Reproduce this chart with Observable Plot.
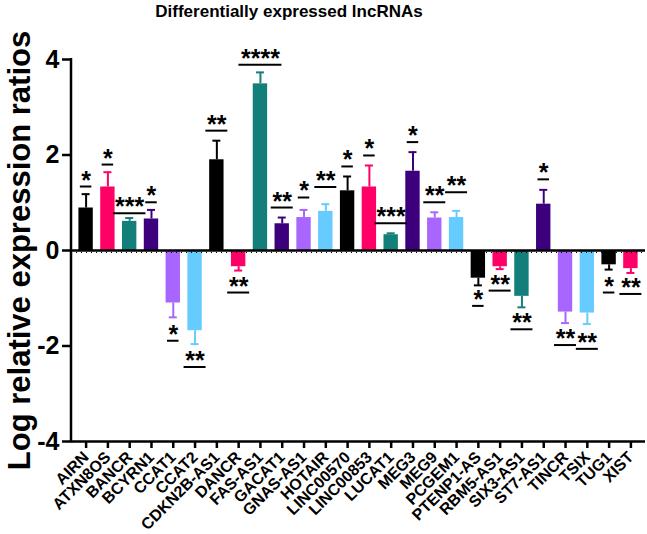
<!DOCTYPE html>
<html><head><meta charset="utf-8">
<script src="https://cdn.jsdelivr.net/npm/d3@7"></script>
<script src="https://cdn.jsdelivr.net/npm/@observablehq/plot@0.6"></script>
<style>
body{margin:0;background:#fff;font-family:"Liberation Sans",Arial,sans-serif;}
#wrap{position:relative;width:647px;height:534px;}
#title{position:absolute;left:0;top:0;width:578px;text-align:center;font-weight:bold;font-size:17px;line-height:24px;color:#000;}
#chart{position:absolute;left:0;top:26px;}
svg{overflow:visible}
</style></head><body>
<div id="wrap"><div id="title">Differentially expressed lncRNAs</div><div id="chart"></div></div>
<script>
const names = ["AIRN","ATXN8OS","BANCR","BCYRN1","CCAT1","CCAT2","CDKN2B-AS1","DANCR","FAS-AS1","GACAT1","GNAS-AS1","HOTAIR","LINC00570","LINC00853","LUCAT1","MEG3","MEG9","PCGEM1","PTENP1-AS","RBM5-AS1","SIX3-AS1","ST7-AS1","TINCR","TSIX","TUG1","XIST"];
const values = [0.89, 1.33, 0.61, 0.66, -1.10, -1.68, 1.90, -0.34, 3.49, 0.56, 0.69, 0.82, 1.25, 1.33, 0.33, 1.66, 0.68, 0.69, -0.58, -0.34, -0.96, 0.97, -1.29, -1.31, -0.30, -0.38];
const errors = [0.29, 0.31, 0.07, 0.19, 0.30, 0.28, 0.40, 0.08, 0.24, 0.13, 0.16, 0.15, 0.30, 0.45, 0.03, 0.40, 0.12, 0.14, 0.15, 0.05, 0.23, 0.30, 0.23, 0.23, 0.10, 0.09];
const sig = ["*","*","***","*","*","**","**","**","****","**","*","**","*","*","***","*","**","**","*","**","**","*","**","**","*","**"];
const sigLevel = [1.34, 1.80, 0.78, 1.01, -1.89, -2.44, 2.51, -0.88, 3.89, 0.90, 1.11, 1.33, 1.76, 1.99, 0.57, 2.27, 1.01, 1.22, -1.16, -0.84, -1.65, 1.49, -1.98, -2.06, -0.88, -0.91];
const yTicks = [-4, -2, 0, 2, 4];
const palette = ["#000000", "#FF0066", "#137F7A", "#3D007D", "#A966FF", "#66CCFF"];

const W = 647, H = 508, ML = 71, MR = 2, MT = 33, MB = 93, PAD = 0.34;
const step = (W - ML - MR) / (names.length - PAD + 2 * PAD);
const bw = step * (1 - PAD);

const rows = names.map((name, i) => ({
  name, value: values[i], err: errors[i],
  end: values[i] + Math.sign(values[i]) * errors[i],
  sig: sig[i], level: sigLevel[i], n: sig[i].length,
  color: palette[i % palette.length]
}));

function yAxisLine(...args) {
  const scales = args.find(a => a && typeof a.y === "function");
  const dims = args.find(a => a && a.marginLeft !== undefined);
  const y = scales.y;
  const l = d3.create("svg:line")
    .attr("x1", dims.marginLeft).attr("x2", dims.marginLeft)
    .attr("y1", y(4) - 1).attr("y2", y(-4) + 1.25)
    .attr("stroke", "#000").attr("stroke-width", 2.5);
  return l.node();
}

const sigLines = [1, 2, 3, 4].map(n => Plot.tickY(rows.filter(d => d.n === n), {
  x: "name", y: "level", stroke: "#000", strokeWidth: 2,
  inset: (bw - (10.5 * n + 1)) / 2
}));

const chart = Plot.plot({
  width: W, height: H,
  marginLeft: ML, marginRight: MR, marginTop: MT, marginBottom: MB,
  style: {fontFamily: "'Liberation Sans', Arial, sans-serif", color: "#000", background: "transparent", overflow: "visible"},
  x: {domain: names, padding: PAD, round: false, label: null},
  y: {domain: [-4, 4], label: null},
  color: {type: "identity"},
  marks: [
    Plot.barY(rows, {x: "name", y: "value", fill: "color"}),
    Plot.ruleX(rows, {x: "name", y1: "value", y2: "end", stroke: "color", strokeWidth: 2}),
    Plot.tickY(rows, {x: "name", y: "end", stroke: "color", strokeWidth: 2, inset: (bw - 8) / 2}),
    ...sigLines,
    Plot.text(rows, {x: "name", y: "level", text: "sig", dy: -6, fontSize: 25, fontWeight: "bold", fill: "#000"}),
    Plot.ruleY([0, -4], {stroke: "#000", strokeWidth: 2.5}),
    Plot.ruleY([0], {stroke: "#000", strokeWidth: 1, strokeDasharray: "1 4", dy: 2}),
    yAxisLine,
    Plot.axisY({ticks: yTicks, tickFormat: d => String(d), tickSize: 9, tickPadding: 3, fontSize: 25, fontWeight: "bold", strokeWidth: 2.5, label: null}),
    Plot.axisX({tickSize: 7, tickPadding: 6, tickRotate: -45, fontSize: 16, fontWeight: "bold", strokeWidth: 2.5, label: null}),
    Plot.text(["Log relative expression ratios"], {frameAnchor: "left", textAnchor: "middle", rotate: -90, dx: -51, dy: 0, fontSize: 31, fontWeight: "bold", fill: "#000"})
  ]
});
document.getElementById("chart").appendChild(chart);
</script>
</body></html>
